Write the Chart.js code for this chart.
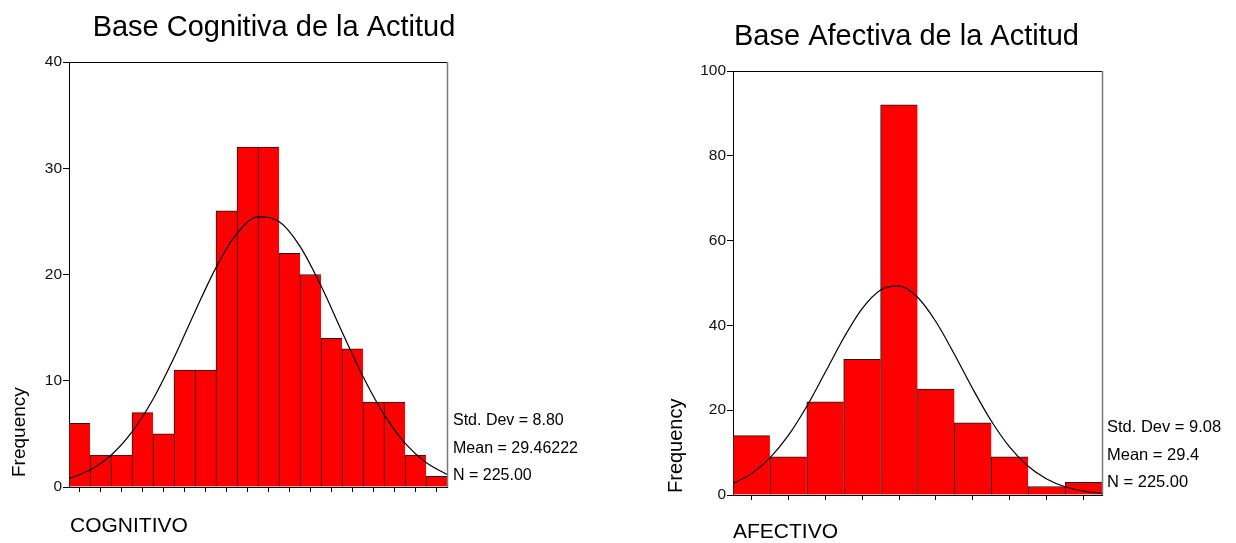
<!DOCTYPE html>
<html>
<head>
<meta charset="utf-8">
<script src="https://cdn.jsdelivr.net/npm/chart.js@4.4.1/dist/chart.umd.min.js"></script>
<style>
  html, body { margin: 0; padding: 0; background: #fff; }
  body { width: 1236px; height: 543px; position: relative; overflow: hidden; }
  canvas { position: absolute; top: 0; }
  #c1 { left: 0; }
  #c2 { left: 618px; }
</style>
</head>
<body>
<canvas id="c1" width="618" height="543"></canvas>
<canvas id="c2" width="618" height="543"></canvas>
<script>
// ---------- Data: Base Cognitiva ----------
const cogTitle = "Base Cognitiva de la Actitud";
const cogAxisLabel = "COGNITIVO";
const cogBins = ["7.5","10.0","12.5","15.0","17.5","20.0","22.5","25.0","27.5","30.0","32.5","35.0","37.5","40.0","42.5","45.0","47.5","50.0"];
const cogFreq = [6, 3, 3, 7, 5, 11, 11, 26, 32, 32, 22, 20, 14, 13, 8, 8, 3, 1];
const cogCurveX = [6.25, 8.75, 11.25, 13.75, 16.25, 18.75, 21.25, 23.75, 26.25, 28.75, 31.25, 33.75, 36.25, 38.75, 41.25, 43.75, 46.25, 48.75, 51.25];
const cogCurveY = [0.79, 1.60, 2.99, 5.18, 8.26, 12.16, 16.50, 20.65, 23.86, 25.42, 24.98, 22.65, 18.94, 14.61, 10.40, 6.83, 4.13, 2.31, 1.19];
const cogYTicks = [0, 10, 20, 30, 40];
const cogStats = ["Std. Dev = 8.80", "Mean = 29.46222", "N = 225.00"];

// ---------- Data: Base Afectiva ----------
const afeTitle = "Base Afectiva de la Actitud";
const afeAxisLabel = "AFECTIVO";
const afeBins = ["10.0","15.0","20.0","25.0","30.0","35.0","40.0","45.0","50.0","55.0"];
const afeFreq = [14, 9, 22, 32, 92, 25, 17, 9, 2, 3];
const afeCurveX = [7.5, 10, 12.5, 15, 17.5, 20, 22.5, 25, 27.5, 30, 32.5, 35, 37.5, 40, 42.5, 45, 47.5, 50, 52.5, 55, 57.5];
const afeCurveY = [2.69, 5.04, 8.75, 14.05, 20.94, 28.93, 37.04, 43.95, 48.36, 49.32, 46.63, 40.87, 33.20, 25.01, 17.46, 11.30, 6.78, 3.77, 1.94, 0.93, 0.41];
const afeYTicks = [0, 20, 40, 60, 80, 100];
const afeStats = ["Std. Dev = 9.08", "Mean = 29.4", "N = 225.00"];

const yLabel = "Frequency";
const FONT = "'Liberation Sans', Arial, Helvetica, sans-serif";

function decorPlugin(o) {
  return {
    id: 'decor',
    afterDraw(chart) {
      const ctx = chart.ctx, a = chart.chartArea;
      ctx.save();
      // frame: top black, right gray
      ctx.lineWidth = 1;
      ctx.strokeStyle = '#000';
      ctx.beginPath(); ctx.moveTo(a.left, Math.round(a.top) + 0.5); ctx.lineTo(a.right + 1, Math.round(a.top) + 0.5); ctx.stroke();
      ctx.strokeStyle = '#7a7a7a';
      ctx.lineWidth = 1.5;
      ctx.beginPath(); ctx.moveTo(a.right + 0.5, a.top); ctx.lineTo(a.right + 0.5, a.bottom); ctx.stroke();
      ctx.fillStyle = '#000';
      // title
      ctx.font = o.titleSize + 'px ' + FONT;
      ctx.textAlign = 'center'; ctx.textBaseline = 'alphabetic';
      ctx.fillText(o.title, o.titleX, o.titleY);
      // x axis title
      ctx.font = o.xLabelSize + 'px ' + FONT;
      ctx.textAlign = 'left';
      ctx.fillText(o.xLabel, o.xLabelX, o.xLabelY);
      // stats
      ctx.font = o.statSize + 'px ' + FONT;
      o.stats.forEach((s, i) => ctx.fillText(s, o.statX, o.statY + i * o.statGap));
      // y label rotated
      ctx.save();
      ctx.translate(o.yLabelX, o.yLabelY);
      ctx.rotate(-Math.PI / 2);
      ctx.font = o.yLabelSize + 'px ' + FONT;
      ctx.textAlign = 'left';
      ctx.fillText(yLabel, 0, 0);
      ctx.restore();
      ctx.restore();
    }
  };
}

function makeChart(id, bins, freq, cx, cy, yMax, yStep, area, deco) {
  const xMin = cx[0], xMax = cx[cx.length - 1];
  return new Chart(document.getElementById(id), {
    type: 'bar',
    data: {
      labels: bins,
      datasets: [
        {
          type: 'line',
          data: cx.map((x, i) => ({ x: x, y: cy[i] })),
          xAxisID: 'xc', yAxisID: 'y',
          borderColor: '#000', borderWidth: 1.2,
          pointRadius: 0, fill: false,
          cubicInterpolationMode: 'monotone',
          order: 0
        },
        {
          type: 'bar',
          data: freq,
          xAxisID: 'x', yAxisID: 'y',
          grouped: false,
          backgroundColor: '#ff0000',
          borderColor: '#1a1a1a',
          borderWidth: { top: 1, left: 1, right: 0, bottom: 0 },
          borderSkipped: false,
          categoryPercentage: 1.0, barPercentage: 1.0,
          order: 1
        }
      ]
    },
    options: {
      responsive: false, animation: false, devicePixelRatio: 1,
      layout: { padding: { top: area.top, right: area.right, left: 0, bottom: 0 } },
      plugins: { legend: { display: false }, tooltip: { enabled: false }, title: { display: false } },
      scales: {
        x: {
          type: 'category', offset: true,
          grid: { display: true, offset: false, drawOnChartArea: false, drawTicks: true, tickLength: 5, color: '#000', lineWidth: 1 },
          border: { display: true, color: '#000', width: 1 },
          ticks: { display: false },
          afterFit(s) { s.height = area.xHeight; }
        },
        xc: {
          type: 'linear', display: false, offset: false, min: xMin, max: xMax,
          grid: { offset: false }
        },
        y: {
          type: 'linear', min: 0, max: yMax,
          grid: { display: true, drawOnChartArea: false, drawTicks: true, tickLength: 6, color: '#000', lineWidth: 1 },
          border: { display: true, color: '#000', width: 1 },
          ticks: { stepSize: yStep, padding: 1, color: '#111', font: { family: FONT, size: area.tickSize } },
          afterFit(s) { s.width = area.yWidth; }
        }
      }
    },
    plugins: [decorPlugin(deco)]
  });
}

makeChart('c1', cogBins, cogFreq, cogCurveX, cogCurveY, cogYTicks[cogYTicks.length - 1], cogYTicks[1] - cogYTicks[0],
  { top: 62, right: 171, xHeight: 56, yWidth: 69, tickSize: 15.5 },
  { title: cogTitle, titleSize: 29, titleX: 274, titleY: 36,
    xLabel: cogAxisLabel, xLabelSize: 21, xLabelX: 70, xLabelY: 532,
    stats: cogStats, statSize: 16, statX: 453, statY: 425, statGap: 27.5,
    yLabelSize: 19, yLabelX: 24.5, yLabelY: 477 });

makeChart('c2', afeBins, afeFreq, afeCurveX, afeCurveY, afeYTicks[afeYTicks.length - 1], afeYTicks[1] - afeYTicks[0],
  { top: 71, right: 134, xHeight: 48, yWidth: 115, tickSize: 15.5 },
  { title: afeTitle, titleSize: 29, titleX: 288.5, titleY: 45,
    xLabel: afeAxisLabel, xLabelSize: 21, xLabelX: 115, xLabelY: 538,
    stats: afeStats, statSize: 16.5, statX: 489, statY: 432, statGap: 27.5,
    yLabelSize: 20, yLabelX: 63.5, yLabelY: 493 });
</script>
</body>
</html>
